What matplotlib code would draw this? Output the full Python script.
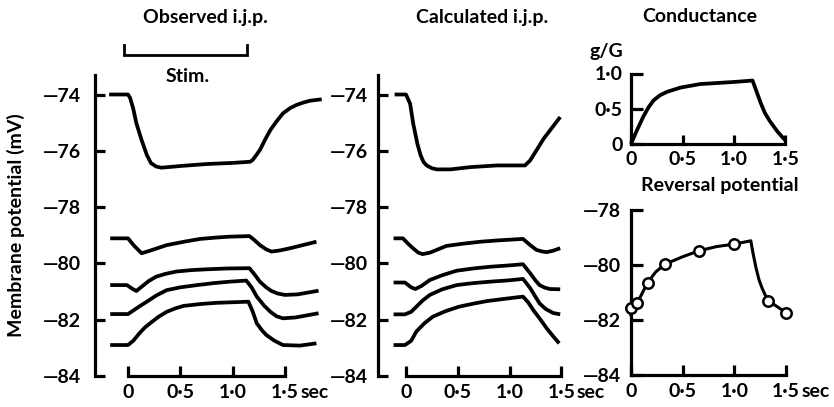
import matplotlib
matplotlib.use("Agg")
import matplotlib.pyplot as plt

W, H = 834, 407
plt.rcParams['font.family'] = ['Lato', 'DejaVu Sans']
plt.rcParams['font.weight'] = 'bold'
FS = 14
LW = 2.7
SW = 2.3

# ---------------- data (time in s, potential in mV) ----------------
obs1_t = [-0.18, 0.0, 0.02, 0.05, 0.08, 0.13, 0.18, 0.22, 0.27, 0.32, 0.5, 0.75, 1.0, 1.165, 1.19, 1.22, 1.26, 1.31, 1.36, 1.42, 1.48, 1.55, 1.61, 1.68, 1.74, 1.85]
obs1_v = [-74.0, -74.0, -74.12, -74.5, -75.02, -75.62, -76.15, -76.44, -76.56, -76.6, -76.54, -76.47, -76.43, -76.39, -76.33, -76.18, -75.97, -75.6, -75.26, -74.95, -74.67, -74.48, -74.37, -74.28, -74.22, -74.17]

obsA_t = [-0.17, 0.0, 0.06, 0.13, 0.2, 0.37, 0.55, 0.69, 0.85, 0.97, 1.16, 1.21, 1.26, 1.32, 1.37, 1.45, 1.55, 1.68, 1.8]
obsA_v = [-79.11, -79.11, -79.38, -79.64, -79.56, -79.35, -79.22, -79.13, -79.08, -79.05, -79.03, -79.18, -79.35, -79.5, -79.58, -79.54, -79.46, -79.34, -79.23]

obsB_t = [-0.17, -0.01, 0.04, 0.08, 0.14, 0.2, 0.27, 0.36, 0.46, 0.6, 0.75, 0.95, 1.16, 1.21, 1.26, 1.32, 1.37, 1.43, 1.5, 1.62, 1.82]
obsB_v = [-80.77, -80.77, -80.9, -80.98, -80.8, -80.62, -80.47, -80.37, -80.29, -80.24, -80.21, -80.18, -80.17, -80.4, -80.65, -80.85, -80.98, -81.07, -81.12, -81.1, -80.97]

obsC_t = [-0.17, 0.0, 0.06, 0.12, 0.18, 0.27, 0.37, 0.5, 0.66, 0.82, 0.97, 1.13, 1.18, 1.23, 1.3, 1.36, 1.42, 1.48, 1.6, 1.82]
obsC_v = [-81.8, -81.8, -81.65, -81.5, -81.36, -81.14, -80.95, -80.85, -80.77, -80.7, -80.65, -80.61, -80.85, -81.18, -81.5, -81.72, -81.88, -81.95, -81.92, -81.77]

obsD_t = [-0.17, 0.0, 0.05, 0.11, 0.16, 0.21, 0.29, 0.37, 0.45, 0.53, 0.7, 0.85, 1.0, 1.15, 1.19, 1.23, 1.28, 1.32, 1.4, 1.48, 1.64, 1.8]
obsD_v = [-82.9, -82.9, -82.75, -82.48, -82.28, -82.13, -81.9, -81.72, -81.6, -81.51, -81.44, -81.4, -81.38, -81.36, -81.7, -82.13, -82.38, -82.54, -82.75, -82.9, -82.92, -82.84]

calc1_t = [-0.11, 0.0, 0.04, 0.07, 0.11, 0.14, 0.17, 0.2, 0.25, 0.3, 0.43, 0.62, 0.88, 1.15, 1.2, 1.33, 1.49]
calc1_v = [-74.0, -74.0, -74.33, -75.04, -75.75, -76.15, -76.4, -76.52, -76.62, -76.66, -76.66, -76.58, -76.52, -76.52, -76.34, -75.57, -74.8]

calcA_t = [-0.12, -0.03, 0.02, 0.07, 0.12, 0.16, 0.23, 0.39, 0.55, 0.72, 0.9, 1.13, 1.2, 1.26, 1.32, 1.36, 1.42, 1.49]
calcA_v = [-79.11, -79.11, -79.3, -79.47, -79.62, -79.67, -79.62, -79.38, -79.3, -79.23, -79.18, -79.13, -79.35, -79.52, -79.58, -79.6, -79.55, -79.46]

calcB_t = [-0.12, -0.01, 0.05, 0.09, 0.15, 0.23, 0.35, 0.49, 0.65, 0.81, 1.0, 1.13, 1.2, 1.25, 1.29, 1.34, 1.39, 1.49]
calcB_v = [-80.68, -80.68, -80.85, -80.91, -80.8, -80.59, -80.42, -80.26, -80.18, -80.12, -80.07, -80.03, -80.35, -80.6, -80.77, -80.86, -80.91, -80.92]

calcC_t = [-0.12, -0.01, 0.05, 0.1, 0.16, 0.23, 0.35, 0.49, 0.65, 0.81, 1.0, 1.13, 1.2, 1.29, 1.35, 1.42, 1.49]
calcC_v = [-81.81, -81.81, -81.72, -81.54, -81.32, -81.12, -80.92, -80.77, -80.7, -80.65, -80.6, -80.55, -80.88, -81.42, -81.62, -81.76, -81.81]

calcD_t = [-0.12, -0.01, 0.05, 0.1, 0.18, 0.26, 0.38, 0.51, 0.65, 0.78, 0.95, 1.13, 1.18, 1.23, 1.3, 1.36, 1.42, 1.48]
calcD_v = [-82.9, -82.9, -82.75, -82.42, -82.12, -81.89, -81.7, -81.54, -81.43, -81.34, -81.26, -81.18, -81.38, -81.66, -82.0, -82.31, -82.58, -82.84]

cond_t = [0.0, 0.05, 0.12, 0.17, 0.22, 0.28, 0.35, 0.48, 0.67, 1.0, 1.18, 1.2, 1.23, 1.26, 1.3, 1.35, 1.42, 1.48, 1.5]
cond_g = [0.0, 0.17, 0.39, 0.52, 0.62, 0.69, 0.74, 0.8, 0.85, 0.88, 0.9, 0.82, 0.7, 0.58, 0.44, 0.32, 0.18, 0.08, 0.05]

rev_line_t = [0.0, 0.06, 0.16, 0.24, 0.33, 0.5, 0.66, 0.83, 1.0, 1.16, 1.18, 1.21, 1.24, 1.27, 1.3, 1.33, 1.5]
rev_line_v = [-81.82, -81.39, -80.64, -80.25, -79.97, -79.7, -79.48, -79.33, -79.24, -79.12, -79.55, -80.1, -80.55, -80.85, -81.1, -81.3, -81.73]
rev_pt_t = [0.0, 0.06, 0.16, 0.33, 0.66, 1.0, 1.33, 1.5]
rev_pt_v = [-81.57, -81.39, -80.64, -79.97, -79.48, -79.24, -81.3, -81.73]

stim_start, stim_end = -0.04, 1.14

mv_ticks = [-84, -82, -80, -78, -76, -74]
mv_labels = ['—84', '—82', '—80', '—78', '—76', '—74']
rev_ticks = [-84, -82, -80, -78]
rev_labels = ['—84', '—82', '—80', '—78']
time_ticks = [0, 0.5, 1.0, 1.5]
time_labels = ['0', '0·5', '1·0', '1·5']
g_ticks = [0, 0.5, 1.0]
g_labels = ['0', '0·5', '1·0']

fig = plt.figure(figsize=(W / 100, H / 100), dpi=100)


def panel(rect, x0, sx, yref, vref, sy):
    L, R, T, B = rect
    ax = fig.add_axes([L / W, (H - B) / H, (R - L) / W, (B - T) / H])
    ax.set_xlim((L - x0) / sx, (R - x0) / sx)
    ax.set_ylim(vref - (B - yref) / sy, vref + (yref - T) / sy)
    ax.patch.set_visible(False)
    for s in ['top', 'right']:
        ax.spines[s].set_visible(False)
    for s in ['left', 'bottom']:
        ax.spines[s].set_linewidth(SW)
        ax.spines[s].set_capstyle('projecting')
    return ax


def style(ax, yt, yl, ybounds, ybase, ypad, xpad=5.5, ylen=7.5, xlen=7.5):
    ax.spines['left'].set_bounds(*ybounds)
    ax.spines['bottom'].set_position(('data', ybase))
    ax.spines['bottom'].set_bounds(0, 1.5)
    ax.set_yticks(yt)
    ax.set_yticklabels(yl)
    ax.set_xticks(time_ticks)
    ax.set_xticklabels(time_labels)
    ax.tick_params(axis='y', direction='in', length=ylen, width=SW, pad=ypad, labelsize=FS)
    ax.tick_params(axis='x', direction='in', length=xlen, width=SW, pad=xpad, labelsize=FS)


# Observed
ax1 = panel((95, 335, 40, 390), 128, 104.7, 94.5, -74, 28.15)
style(ax1, mv_ticks, mv_labels, (-84, -73.3), -84, 10.0)
for t, v in [(obs1_t, obs1_v), (obsA_t, obsA_v), (obsB_t, obsB_v), (obsC_t, obsC_v), (obsD_t, obsD_v)]:
    ax1.plot(t, v, color='black', lw=LW, solid_capstyle='butt', solid_joinstyle='round', clip_on=False)
ax1.plot([stim_start, stim_start, stim_end, stim_end], [-72.25, -72.6, -72.6, -72.25],
         color='black', lw=2.0, clip_on=False, solid_joinstyle='miter')
ax1.annotate('sec', xy=(1.5, -84), xytext=(11, -5.5), textcoords='offset points',
             ha='left', va='top', fontsize=FS)

# Calculated
ax2 = panel((378, 590, 40, 390), 406, 103.5, 94.5, -74, 28.15)
style(ax2, mv_ticks, mv_labels, (-84, -73.3), -84, 7.0)
for t, v in [(calc1_t, calc1_v), (calcA_t, calcA_v), (calcB_t, calcB_v), (calcC_t, calcC_v), (calcD_t, calcD_v)]:
    ax2.plot(t, v, color='black', lw=LW, solid_capstyle='butt', solid_joinstyle='round', clip_on=False)
ax2.annotate('sec', xy=(1.5, -84), xytext=(11, -5.5), textcoords='offset points',
             ha='left', va='top', fontsize=FS)

# Conductance
ax3 = panel((631, 800, 60, 150), 631, 103.0, 144, 0.0, 70.5)
style(ax3, g_ticks, g_labels, (0, 1.0), 0.0, 6.0, xpad=5.0, ylen=8.5, xlen=6.5)
ax3.plot(cond_t, cond_g, color='black', lw=LW, solid_capstyle='butt', clip_on=False)

# Reversal potential
ax4 = panel((631, 800, 200, 390), 631, 103.3, 210, -78, 27.5)
style(ax4, rev_ticks, rev_labels, (-84, -78), -84, 7.5, ylen=8.5)
ax4.plot(rev_line_t, rev_line_v, color='black', lw=2.2, clip_on=False)
ax4.plot(rev_pt_t, rev_pt_v, linestyle='none', marker='o', ms=7.5, mfc='white',
         mec='black', mew=1.8, clip_on=False, zorder=5)
ax4.annotate('sec', xy=(1.5, -84), xytext=(11, -5.5), textcoords='offset points',
             ha='left', va='top', fontsize=FS)


def ftext(x, y, s, **kw):
    fig.text(x / W, 1 - y / H, s, fontsize=FS, **kw)


ftext(205, 17, 'Observed i.j.p.', ha='center', va='center')
ftext(482, 17, 'Calculated i.j.p.', ha='center', va='center')
ftext(700, 17, 'Conductance', ha='center', va='center')
ftext(188, 77, 'Stim.', ha='center', va='center')
ftext(606, 52, 'g/G', ha='center', va='center')
ftext(720, 186, 'Reversal potential', ha='center', va='center')
ftext(16, 225, 'Membrane potential (mV)', ha='center', va='center', rotation=90)

fig.savefig('out.png', dpi=100)
